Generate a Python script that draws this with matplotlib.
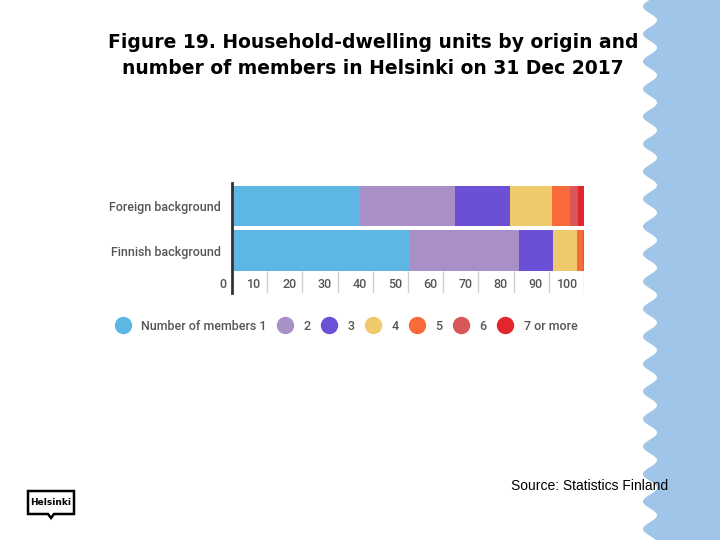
import numpy as np
import matplotlib
matplotlib.use("Agg")
import matplotlib.pyplot as plt
from matplotlib.lines import Line2D
from matplotlib.patches import Polygon
from matplotlib.transforms import offset_copy

# data (shares in %)
categories = ["Foreign background", "Finnish background"]
member_groups = ["Number of members 1", "2", "3", "4", "5", "6", "7 or more"]
foreign = [36.4, 27.0, 15.6, 11.8, 5.2, 2.2, 1.8]
finnish = [50.6, 30.9, 9.6, 6.8, 1.9, 0.15, 0.05]
colors = ["#5db6e4", "#a98fc7", "#6b50d6", "#efca6c", "#f96a3a", "#d9575a", "#e3262d"]
xticks = [0, 10, 20, 30, 40, 50, 60, 70, 80, 90, 100]

fig = plt.figure(figsize=(7.2, 5.4), dpi=100)

# decorative background: wavy blue strip on the right
bg = fig.add_axes([0, 0, 1, 1], zorder=-1)
bg.set_xlim(0, 720)
bg.set_ylim(540, 0)
bg.axis("off")
yy = np.linspace(0, 540, 1200)
edge = 650 - 7 * np.cos(2 * np.pi * (yy - 34) / 27.5)
bg.fill_betweenx(yy, edge, 720, color="#9fc5e8", lw=0)

# Helsinki logo
logo = Polygon([[28, 491], [74, 491], [74, 514], [54, 514], [51, 518], [48, 514], [28, 514]],
               closed=True, fill=False, ec="black", lw=1.8)
bg.add_patch(logo)
bg.text(51, 502.5, "Helsinki", ha="center", va="center", fontsize=6.5, weight="bold",
        family="Liberation Sans Narrow", color="black")

# title and source
title_kw = dict(ha="center", va="center", fontsize=13.5, weight="bold", family="DejaVu Sans")
fig.text(0.518, 1 - 43 / 540, "Figure 19. Household-dwelling units by origin and", **title_kw)
fig.text(0.518, 1 - 68 / 540, "number of members in Helsinki on 31 Dec 2017", **title_kw)
fig.text(511 / 720, 1 - 486 / 540, "Source: Statistics Finland", ha="left", va="center",
         fontsize=10, family="Liberation Sans", color="black")

# chart
ax = fig.add_axes([232 / 720, 1 - 293 / 540, 352 / 720, 110 / 540])
ypos = np.arange(len(categories))
left = np.zeros(len(categories))
for i, name in enumerate(member_groups):
    vals = np.array([foreign[i], finnish[i]])
    ax.barh(ypos, vals, left=left, height=0.9, color=colors[i], label=name, zorder=2)
    left += vals

ax.set_xlim(0, 100)
ax.set_ylim(1.955, -0.517)
for s in ["top", "right", "bottom"]:
    ax.spines[s].set_visible(False)
ax.spines["left"].set_color("#333333")
ax.spines["left"].set_linewidth(2)
ax.spines["left"].set_zorder(3)

ax.set_yticks(ypos, categories)
ax.tick_params(axis="y", length=0, pad=8, labelsize=9, labelcolor="#555555")
for lab in ax.get_yticklabels():
    lab.set_family("Roboto")
    lab.set_weight("medium")

ax.set_xticks([])
ax.vlines(xticks[1:], 1.47, 1.955, color="#cfcfcf", lw=1, zorder=1)
trans = offset_copy(ax.get_xaxis_transform(), fig=fig, x=-6, y=0, units="dots")
for t in xticks:
    ax.text(t, 0.073, str(t), transform=trans, ha="right", va="center", fontsize=9,
            color="#555555", family="Roboto", weight="medium")

handles = [Line2D([], [], ls="none", marker="o", markersize=11.5, color=c) for c in colors]
leg = fig.legend(handles, member_groups, ncol=7, loc="center", bbox_to_anchor=(0.482, 1 - 326 / 540),
                 frameon=False, handlelength=1.0, handletextpad=0.95, columnspacing=1.0,
                 prop={"family": "Roboto", "weight": "medium", "size": 9})
for txt in leg.get_texts():
    txt.set_color("#555555")

fig.savefig("out.png", dpi=100)
